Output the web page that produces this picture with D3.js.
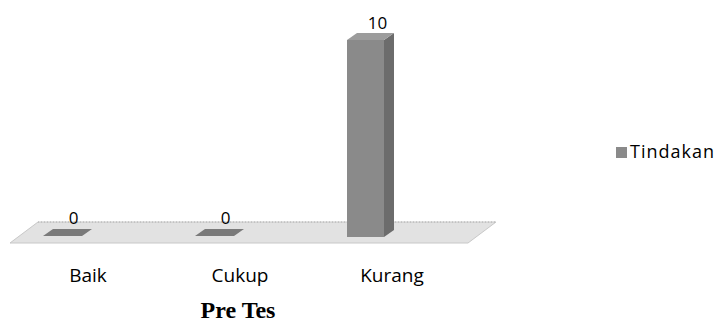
<!DOCTYPE html>
<html>
<head>
<meta charset="utf-8">
<script src="https://cdn.jsdelivr.net/npm/d3@7"></script>
<style>
  html, body { margin: 0; padding: 0; background: #fff; }
  svg { display: block; }
</style>
</head>
<body>
<svg id="chart" width="718" height="322"></svg>
<script>
// Data
const categories = ["Baik", "Cukup", "Kurang"];
const values = [0, 0, 10];
const seriesName = "Tindakan";
const axisTitle = "Pre Tes";

const svg = d3.select("#chart");

// Scales: category centres and the value axis of the 3D bars
const x = d3.scalePoint().domain(categories).range([88, 392]);
const y = d3.scaleLinear().domain([0, 10]).range([237, 40]);

// 3D depth offsets
const barW = 37, dX = 10, dY = -7;          // bar depth
const floorFront = 6, floorBack = -15;      // floor relative to bar base
const floorDX = 28;

const barLeft = c => x(c) - 45;

// Floor (flat parallelogram)
const fx0 = barLeft(categories[0]) - 33;
const fx1 = barLeft(categories[categories.length - 1]) + barW + 84;
const y0 = y(0);
svg.append("path")
  .attr("d", `M${fx0},${y0 + floorFront} L${fx1},${y0 + floorFront} L${fx1 + floorDX},${y0 + floorBack} L${fx0 + floorDX},${y0 + floorBack} Z`)
  .attr("fill", "#e2e2e2")
  .attr("stroke", "#c8c8c8")
  .attr("stroke-width", 1);
svg.append("line")
  .attr("x1", fx0 + floorDX).attr("x2", fx1 + floorDX)
  .attr("y1", y0 + floorBack).attr("y2", y0 + floorBack)
  .attr("stroke", "#b0b0b0").attr("stroke-dasharray", "1,2");

// Bars
const bars = svg.append("g");
categories.forEach((c, i) => {
  const v = values[i];
  const L = barLeft(c), R = L + barW;
  const top = y(v), base = y(0);
  const g = bars.append("g");
  if (v > 0) {
    // front face
    g.append("rect").attr("x", L).attr("y", top).attr("width", barW).attr("height", base - top)
      .attr("fill", "#8a8a8a");
    // side face
    g.append("path")
      .attr("d", `M${R},${top} L${R + dX},${top + dY} L${R + dX},${base + dY} L${R},${base} Z`)
      .attr("fill", "#6c6c6c");
    // top face
    g.append("path")
      .attr("d", `M${L},${top} L${R},${top} L${R + dX},${top + dY} L${L + dX},${top + dY} Z`)
      .attr("fill", "#9c9c9c");
  } else {
    // zero-height bar drawn as a flat plate on the floor
    g.append("path")
      .attr("d", `M${L},${base - 1} L${R + 2},${base - 1} L${R + dX + 2},${base - 1 + dY} L${L + dX},${base - 1 + dY} Z`)
      .attr("fill", "#7a7a7a");
  }
  // value label
  svg.append("text")
    .attr("x", L + barW / 2 + dX + 2)
    .attr("y", (v > 0 ? top + dY : base - 2 + dY) - 4)
    .attr("text-anchor", "middle")
    .attr("font-family", "'Open Sans', sans-serif")
    .attr("font-size", 17)
    .attr("fill", "#000")
    .text(v);
});

// Category labels
svg.append("g").selectAll("text").data(categories).join("text")
  .attr("x", d => x(d))
  .attr("y", 282)
  .attr("text-anchor", "middle")
  .attr("font-family", "'Open Sans', sans-serif")
  .attr("font-size", 19)
  .attr("fill", "#000")
  .text(d => d);

// Axis title
svg.append("text")
  .attr("x", 238).attr("y", 318)
  .attr("text-anchor", "middle")
  .attr("font-family", "'Liberation Serif', 'Times New Roman', serif")
  .attr("font-weight", "bold")
  .attr("font-size", 24)
  .attr("fill", "#000")
  .text(axisTitle);

// Legend
const lg = svg.append("g").attr("transform", "translate(616,147)");
lg.append("rect").attr("width", 11).attr("height", 11).attr("fill", "#8a8a8a");
lg.append("text")
  .attr("x", 14).attr("y", 11)
  .attr("font-family", "'Open Sans', sans-serif")
  .attr("font-size", 18)
  .attr("letter-spacing", 1)
  .attr("fill", "#000")
  .text(seriesName);
</script>
</body>
</html>
